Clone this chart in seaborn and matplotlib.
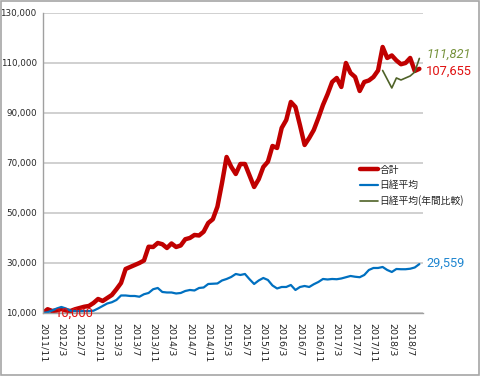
import matplotlib
matplotlib.use("Agg")
import matplotlib.pyplot as plt
import matplotlib.patches as mpatches
from matplotlib.ticker import FuncFormatter
import numpy as np
import seaborn as sns

# monthly values, 2011/11 .. 2018/9
total = [
    10000, 11500, 10800, 11000, 11600, 11000, 10800, 11500, 12000, 12500,
    12800, 14000, 15600, 14800, 16000, 17200, 19500, 22000, 27600, 28400,
    29200, 30000, 31000, 36500, 36400, 38000, 37500, 36000, 37800, 36400,
    37000, 39500, 40000, 41200, 41000, 42500, 46000, 47500, 52500, 62000,
    72400, 68500, 65600, 69600, 69600, 65000, 60400, 63500, 68400, 70500,
    76800, 76000, 84000, 87200, 94400, 92400, 85000, 77200, 80000, 83200,
    88000, 93200, 97500, 102400, 104000, 100400, 110000, 106000, 104400, 98800,
    102400, 103000, 104400, 107000, 116400, 112000, 113000, 111000, 109500, 110000,
    112000, 106800, 107655,
]
nikkei = [
    10000, 10300, 11000, 11800, 12400, 11800, 10900, 10800, 10700, 10800,
    10800, 10900, 11800, 12800, 13800, 14300, 15200, 17000, 17000, 16800,
    16800, 16500, 17500, 18000, 19500, 20000, 18400, 18200, 18200, 17800,
    18000, 18800, 19200, 19000, 20000, 20200, 21600, 21700, 21800, 23000,
    23600, 24400, 25600, 25200, 25600, 23500, 21600, 23000, 24000, 23200,
    21000, 19800, 20400, 20400, 21200, 19200, 20400, 20800, 20400, 21500,
    22400, 23600, 23400, 23600, 23500, 23800, 24300, 24800, 24500, 24300,
    25200, 27200, 28000, 28000, 28400, 27200, 26400, 27600, 27500, 27500,
    27700, 28200, 29559,
]
# annual comparison starts at 2018/1 (index 74)
annual_start = 74
annual = [107000, 103500, 100000, 104000, 103200, 104000, 104800, 106400, 111821]

tick_labels = [
    "2011/11", "2012/3", "2012/7", "2012/11", "2013/3", "2013/7", "2013/11",
    "2014/3", "2014/7", "2014/11", "2015/3", "2015/7", "2015/11", "2016/3",
    "2016/7", "2016/11", "2017/3", "2017/7", "2017/11", "2018/3", "2018/7",
]
y_ticks = [10000, 30000, 50000, 70000, 90000, 110000, 130000]

RED = "#C00000"
BLUE = "#0070C0"
GREEN = "#4F6228"

sns.set_style("white")
plt.rcParams["font.family"] = ["DejaVu Sans", "Noto Sans CJK JP"]

fig = plt.figure(figsize=(4.8, 3.76), dpi=100)
ax = fig.add_axes([0.0896, 0.1676, 0.7917, 0.7979])

months = np.arange(len(total))
annual_x = np.arange(annual_start, annual_start + len(annual))

sns.lineplot(x=months, y=total, ax=ax, color=RED, linewidth=3.2, label="合計")
sns.lineplot(x=months, y=nikkei, ax=ax, color=BLUE, linewidth=1.6, label="日経平均")
sns.lineplot(x=annual_x, y=annual, ax=ax, color=GREEN, linewidth=1.2,
             label="日経平均(年間比較)")

ax.set_xlim(0, 82.8)
ax.set_ylim(y_ticks[0], y_ticks[-1])
ax.set_yticks(y_ticks)
ax.yaxis.set_major_formatter(FuncFormatter(lambda v, p: f"{int(v):,}"))
ax.set_xticks(np.arange(len(tick_labels)) * 4)
ax.set_xticklabels(tick_labels, rotation=-90, fontsize=6.8)
ax.tick_params(axis="y", labelsize=6.3, length=3, color="#A0A0A0", pad=1.5)
ax.tick_params(axis="x", length=4, color="#A0A0A0", pad=3)
ax.grid(axis="y", color="#C8C8C8", linewidth=1.2)
ax.set_axisbelow(True)
for side in ["top", "right"]:
    ax.spines[side].set_visible(False)
for side in ["left", "bottom"]:
    ax.spines[side].set_color("#A0A0A0")
    ax.spines[side].set_linewidth(1.0)

# end-value labels
num_font = ["Roboto", "DejaVu Sans"]
ax.text(83.5, 113300, f"{annual[-1]:,}", color="#76923C", fontsize=9.3,
        style="italic", family=num_font, ha="left", va="center", clip_on=False)
ax.text(83.5, 106700, f"{total[-1]:,}", color="#E01010", fontsize=9.3,
        family=num_font, ha="left", va="center", clip_on=False)
ax.text(83.5, 29700, f"{nikkei[-1]:,}", color="#1F86D0", fontsize=9.3,
        family=num_font, ha="left", va="center", clip_on=False)
ax.text(2.5, 10000, f"{total[0]:,}", color="#E01010", fontsize=9.3,
        family=num_font, ha="left", va="center", clip_on=False)

leg = ax.legend(loc="upper left", bbox_to_anchor=(0.75, 0.562),
                bbox_transform=fig.transFigure, frameon=False, fontsize=7,
                handlelength=1.8, handletextpad=0.2, labelspacing=0.55,
                borderaxespad=0, borderpad=0)
for t in leg.get_texts():
    t.set_family(["Noto Sans CJK JP", "DejaVu Sans"])

# chart border
fig.patches.append(mpatches.Rectangle((0.002, 0.003), 0.995, 0.994,
                                      transform=fig.transFigure, fill=False,
                                      edgecolor="#A6A6A6", linewidth=1.2))

fig.savefig("out.png", dpi=100)
